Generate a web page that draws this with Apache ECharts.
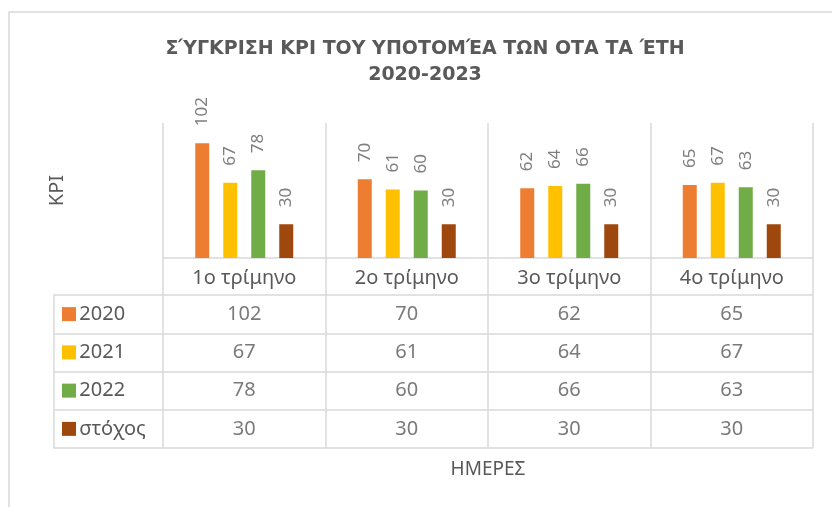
<!DOCTYPE html>
<html>
<head>
<meta charset="utf-8">
<script src="https://cdn.jsdelivr.net/npm/echarts@6/dist/echarts.min.js"></script>
<style>
  html, body { margin: 0; padding: 0; background: #fff; }
  #chart { width: 832px; height: 507px; }
</style>
</head>
<body>
<div id="chart"></div>
<script>
  // data
  const quarters = ['1ο τρίμηνο', '2ο τρίμηνο', '3ο τρίμηνο', '4ο τρίμηνο']
  const seriesNames = ['2020', '2021', '2022', 'στόχος']
  const y2020 = [102, 70, 62, 65]
  const y2021 = [67, 61, 64, 67]
  const y2022 = [78, 60, 66, 63]
  const target = [30, 30, 30, 30]
  const colors = ['#ED7D31', '#FFC000', '#70AD47', '#9E480E']

  const allValues = [y2020, y2021, y2022, target]
  const font = 'Noto Sans'
  const grey = '#595959'
  const lineColor = '#D9D9D9'

  // rich styles for the legend keys in the table
  let rich = { t: { fontFamily: font, fontSize: 20, color: grey } }
  seriesNames.forEach((n, i) => {
    rich['sq' + i] = { width: 14, height: 14, backgroundColor: colors[i] }
  })

  let barSeries = allValues.map((vals, i) => ({
    name: seriesNames[i],
    type: 'bar',
    xAxisIndex: 0,
    yAxisIndex: 0,
    barWidth: 14,
    barGap: '100%',
    data: vals,
    itemStyle: { color: colors[i] },
    label: {
      show: true,
      position: 'top',
      distance: 17,
      rotate: 90,
      align: 'left',
      verticalAlign: 'middle',
      fontFamily: font,
      fontSize: 17,
      color: '#7F7F7F'
    }
  }))

  // table cells: one text per quarter and row
  let tableSeries = allValues.map((vals, i) => ({
    name: seriesNames[i] + ' πίνακας',
    type: 'scatter',
    xAxisIndex: 1,
    yAxisIndex: 1,
    symbolSize: 0,
    data: vals.map((v, k) => [quarters[k], seriesNames[i], v]),
    label: {
      show: true,
      position: 'inside',
      formatter: p => p.value[2],
      fontFamily: font,
      fontSize: 20,
      color: grey
    }
  }))

  let option = {
    animation: false,
    title: {
      text: 'ΣΎΓΚΡΙΣΗ KPI ΤΟΥ ΥΠΟΤΟΜΈΑ ΤΩΝ ΟΤΑ ΤΑ ΈΤΗ\n2020-2023',
      left: 425,
      top: 36,
      padding: 0,
      textAlign: 'center',
      textStyle: {
        fontFamily: 'DejaVu Sans',
        fontSize: 19,
        fontWeight: 'bold',
        color: grey,
        lineHeight: 26
      }
    },
    graphic: [{
      type: 'rect',
      silent: true,
      shape: { x: 9, y: 12, width: 900, height: 600 },
      style: { fill: 'none', stroke: lineColor, lineWidth: 1.5 }
    }],
    grid: [
      { left: 163, right: 19, top: 123, height: 135 },
      { left: 163, right: 19, top: 295, bottom: 59 }
    ],
    xAxis: [
      {
        type: 'category',
        gridIndex: 0,
        data: quarters,
        axisLine: { lineStyle: { color: lineColor, width: 1.5 } },
        axisTick: { show: true, length: 37, interval: 0, lineStyle: { color: lineColor, width: 1.5 } },
        axisLabel: { margin: 10, interval: 0, fontFamily: font, fontSize: 20, color: grey },
        splitLine: { show: true, interval: 0, lineStyle: { color: lineColor, width: 1.5 } }
      },
      {
        type: 'category',
        gridIndex: 1,
        data: quarters,
        name: 'ΗΜΕΡΕΣ',
        nameLocation: 'middle',
        nameGap: 12,
        nameTextStyle: { fontFamily: font, fontSize: 19, color: grey },
        axisLine: { show: false },
        axisTick: { show: false },
        axisLabel: { show: false },
        splitLine: { show: true, interval: 0, lineStyle: { color: lineColor, width: 1.5 } }
      }
    ],
    yAxis: [
      {
        type: 'value',
        gridIndex: 0,
        min: 0,
        max: 120,
        name: 'KPI',
        nameLocation: 'middle',
        nameGap: 96,
        nameTextStyle: { fontFamily: font, fontSize: 20, color: grey },
        axisLine: { show: false },
        axisTick: { show: false },
        axisLabel: { show: false },
        splitLine: { show: false }
      },
      {
        type: 'category',
        gridIndex: 1,
        inverse: true,
        data: seriesNames,
        axisLine: { show: false },
        axisTick: { show: true, length: 109, interval: 0, lineStyle: { color: lineColor, width: 1.5 } },
        axisLabel: {
          interval: 0,
          margin: 101,
          align: 'left',
          formatter: (v, i) => '{sq' + i + '|} {t|' + v + '}',
          rich: rich
        },
        splitLine: { show: true, interval: 0, lineStyle: { color: lineColor, width: 1.5 } }
      },
      {
        // left border of the legend column
        type: 'value',
        gridIndex: 1,
        position: 'left',
        offset: 109,
        axisLine: { show: true, lineStyle: { color: lineColor, width: 1.5 } },
        axisTick: { show: false },
        axisLabel: { show: false },
        splitLine: { show: false }
      }
    ],
    series: barSeries.concat(tableSeries)
  }

  let chart = echarts.init(document.getElementById('chart'))
  chart.setOption(option)
  window.addEventListener('resize', () => {
    chart.resize()
  })
</script>
</body>
</html>
